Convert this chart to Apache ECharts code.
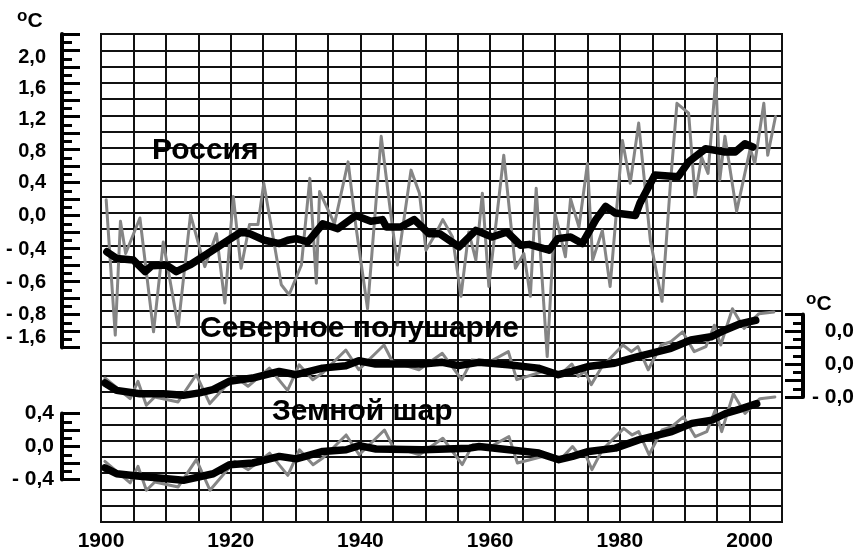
<!DOCTYPE html>
<html>
<head>
<meta charset="utf-8">
<script src="https://cdn.jsdelivr.net/npm/echarts@6/dist/echarts.min.js"></script>
<style>
    html, body { margin: 0; background: #fff; }
    #chart { width: 857px; height: 552px; }
</style>
</head>
<body>
<div id="chart"></div>
<script>
// Russia, annual values (grey) and smoothed (black)
const rusYears = [1900.8, 1902.2, 1903.0, 1903.8, 1906.0, 1908.1, 1909.6, 1911.9, 1913.8, 1916.0, 1917.8, 1919.1, 1920.4, 1921.6, 1922.9, 1924.2, 1925.1, 1927.8, 1929.0, 1930.9, 1932.2, 1933.2, 1933.7, 1936.0, 1938.1, 1939.3, 1941.1, 1943.2, 1944.5, 1945.7, 1947.8, 1949.1, 1950.1, 1951.6, 1952.7, 1954.2, 1955.5, 1956.7, 1957.8, 1958.8, 1959.8, 1962.1, 1963.9, 1965.2, 1966.2, 1967.1, 1968.8, 1970.0, 1971.6, 1972.4, 1973.7, 1975.0, 1975.8, 1977.3, 1978.5, 1980.4, 1981.6, 1982.9, 1984.7, 1986.5, 1987.8, 1988.8, 1990.6, 1991.6, 1992.6, 1993.6, 1994.8, 1995.4, 1996.2, 1998.0, 2000.1, 2000.8, 2002.2, 2002.8, 2004.0];
const rusAnnual = [0.19, -1.45, -0.07, -0.46, -0.03, -1.41, -0.32, -1.35, 0.01, -0.62, -0.22, -1.06, 0.23, -0.64, -0.11, -0.11, 0.39, -0.84, -0.96, -0.6, 0.45, -0.82, 0.29, -0.1, 0.65, -0.13, -1.13, 0.96, 0.13, -0.6, 0.55, 0.27, -0.42, -0.22, -0.05, -0.26, -0.98, -0.2, -0.54, 0.27, -0.86, 0.73, -0.64, -0.46, -0.98, 0.33, -1.71, 0.03, -0.5, 0.2, -0.14, 0.63, -0.54, -0.18, -0.86, 0.91, 0.39, 1.12, -0.3, -1.04, 0.39, 1.36, 1.24, 0.23, 0.71, 0.51, 1.66, 0.43, 0.96, 0.05, 0.81, 0.63, 1.36, 0.73, 1.2];
const rusSmoothYears = [1900.9, 1902.4, 1905.0, 1906.8, 1907.8, 1910.1, 1911.6, 1913.7, 1915.7, 1918.8, 1921.6, 1922.9, 1925.2, 1927.5, 1928.8, 1930.1, 1931.9, 1934.2, 1936.5, 1939.3, 1941.6, 1943.4, 1944.0, 1946.2, 1948.3, 1950.6, 1952.2, 1955.2, 1957.8, 1960.3, 1962.6, 1964.7, 1966.0, 1969.1, 1970.4, 1972.4, 1974.2, 1976.3, 1977.8, 1979.3, 1982.4, 1983.1, 1985.4, 1989.0, 1990.6, 1993.2, 1996.2, 1997.8, 1999.3, 2000.5];
const rusSmooth = [-0.44, -0.52, -0.54, -0.68, -0.61, -0.6, -0.68, -0.6, -0.5, -0.34, -0.2, -0.22, -0.3, -0.34, -0.3, -0.28, -0.32, -0.1, -0.16, 0.0, -0.07, -0.05, -0.14, -0.14, -0.05, -0.22, -0.22, -0.38, -0.18, -0.26, -0.2, -0.36, -0.35, -0.42, -0.28, -0.26, -0.34, -0.05, 0.11, 0.03, 0.0, 0.15, 0.49, 0.47, 0.65, 0.81, 0.77, 0.77, 0.87, 0.83];

// Northern hemisphere
const nhYears = [1900.6, 1904.5, 1905.7, 1907.0, 1908.3, 1911.9, 1914.7, 1916.8, 1920.6, 1922.7, 1926.0, 1928.8, 1930.6, 1932.7, 1934.2, 1937.8, 1939.8, 1943.7, 1945.0, 1949.1, 1952.7, 1955.7, 1957.3, 1960.1, 1962.9, 1964.2, 1969.1, 1970.6, 1972.7, 1973.7, 1974.7, 1975.7, 1977.3, 1980.6, 1981.9, 1982.9, 1984.5, 1986.5, 1988.0, 1989.8, 1991.6, 1993.4, 1994.7, 1995.7, 1997.5, 1999.3, 2001.6, 2003.9];
const nhAnnual = [-0.17, -0.42, -0.21, -0.5, -0.4, -0.46, -0.13, -0.48, -0.15, -0.27, -0.05, -0.32, -0.01, -0.19, -0.11, 0.17, -0.07, 0.23, 0.03, -0.07, 0.13, -0.19, 0.05, 0.03, 0.15, -0.19, -0.07, -0.15, 0.0, -0.15, -0.09, -0.25, -0.04, 0.23, 0.15, 0.21, -0.07, 0.23, 0.27, 0.39, 0.15, 0.21, 0.47, 0.23, 0.67, 0.43, 0.61, 0.63];
const nhSmoothYears = [1900.6, 1902.4, 1906.0, 1909.6, 1912.7, 1915.2, 1917.3, 1919.8, 1923.4, 1927.5, 1930.1, 1932.2, 1934.2, 1937.8, 1939.8, 1942.4, 1945.5, 1949.6, 1952.7, 1955.2, 1958.3, 1962.9, 1967.5, 1970.6, 1972.7, 1975.2, 1979.3, 1982.9, 1988.0, 1991.1, 1994.2, 1996.3, 1998.8, 2001.1];
const nhSmooth = [-0.23, -0.32, -0.36, -0.36, -0.38, -0.35, -0.31, -0.21, -0.17, -0.09, -0.13, -0.09, -0.05, -0.02, 0.04, 0.0, 0.0, 0.0, 0.02, -0.02, 0.02, -0.01, -0.05, -0.13, -0.09, -0.03, 0.01, 0.09, 0.19, 0.29, 0.33, 0.41, 0.49, 0.53];

// Globe
const glYears = [1900.6, 1904.5, 1905.7, 1907.0, 1908.3, 1911.9, 1914.7, 1916.8, 1920.6, 1922.7, 1926.0, 1928.8, 1930.6, 1932.7, 1934.2, 1937.8, 1939.8, 1943.7, 1945.0, 1949.1, 1952.7, 1955.7, 1957.3, 1960.1, 1962.9, 1964.2, 1969.1, 1970.6, 1972.7, 1973.7, 1974.7, 1975.7, 1977.3, 1980.6, 1981.9, 1982.9, 1984.5, 1986.5, 1988.0, 1989.8, 1991.6, 1993.4, 1994.7, 1995.7, 1997.5, 1999.3, 2001.6, 2003.9];
const glAnnual = [-0.18, -0.44, -0.24, -0.53, -0.43, -0.49, -0.16, -0.53, -0.18, -0.28, -0.08, -0.35, -0.04, -0.22, -0.14, 0.14, -0.1, 0.2, 0.0, -0.1, 0.1, -0.22, 0.02, 0.0, 0.12, -0.2, -0.1, -0.18, 0.0, -0.1, -0.1, -0.28, -0.04, 0.22, 0.14, 0.18, -0.1, 0.2, 0.24, 0.36, 0.12, 0.18, 0.44, 0.18, 0.64, 0.4, 0.58, 0.6];
const glSmoothYears = [1900.6, 1902.4, 1906.0, 1912.7, 1917.3, 1919.8, 1923.4, 1927.5, 1930.1, 1934.2, 1937.8, 1939.8, 1942.4, 1949.6, 1956.8, 1958.3, 1962.9, 1967.5, 1970.6, 1972.7, 1975.2, 1979.3, 1982.9, 1988.0, 1991.1, 1994.2, 1996.3, 1998.8, 2001.1];
const glSmooth = [-0.26, -0.33, -0.36, -0.41, -0.33, -0.22, -0.2, -0.12, -0.15, -0.06, -0.04, 0.01, -0.03, -0.04, -0.02, 0.0, -0.04, -0.08, -0.16, -0.12, -0.06, -0.02, 0.08, 0.18, 0.28, 0.32, 0.4, 0.46, 0.52];

// tick labels (the Russia labels sit a little tighter than its ticks)
const rusTickLabels = ['2,0', '1,6', '1,2', '0,8', '0,4', '0,0', '- 0,4', '- 0,6', '- 0,8', '- 1,6'];
const rusLabelValues = [1.92, 1.54, 1.16, 0.78, 0.4, 0.0, -0.41, -0.81, -1.2, -1.48];
const nhTickValues = [0.4, 0.0, -0.4];
const nhTickLabels = ['0,0', '0,0', '- 0,0'];
const glTickValues = [0.4, 0.0, -0.4];
const glTickLabels = ['0,4', '0,0', '- 0,4'];

const zip = (xs, ys) => xs.map((x, i) => [x, ys[i]]);
const pick = (vals, labels) => v => {
    const i = vals.findIndex(t => Math.abs(t - v) < 1e-6);
    return i >= 0 ? labels[i] : '';
};

const FONT = '"Liberation Sans", Arial, sans-serif';
const rowH = 16.5;
const gridLeft = 101, gridRight = 75, gridTop = 34;

function sideAxis(grid, min, max, position, offset, labelOpts) {
    return {
        gridIndex: grid, type: 'value', min: min, max: max, interval: 0.2,
        position: position, offset: offset,
        axisLine: { show: true, lineStyle: { color: '#000', width: 4 } },
        axisTick: { show: true, inside: true, length: 18, lineStyle: { color: '#000', width: 3 } },
        minorTick: { show: true, splitNumber: 2, length: 10, lineStyle: { color: '#000', width: 3 } },
        splitLine: { show: false },
        axisLabel: Object.assign({ color: '#000', fontWeight: 'bold', fontFamily: FONT }, labelOpts)
    };
}

function hiddenX(grid) {
    return { gridIndex: grid, type: 'value', min: 1900, max: 2005, show: false };
}

function lineSeries(grid, data, color, width, z) {
    return {
        type: 'line', xAxisIndex: grid, yAxisIndex: grid, data: data,
        symbol: 'none', clip: false, z: z,
        lineStyle: { color: color, width: width, join: 'round', cap: 'round' }
    };
}

const degStyle = {
    text: '{o|o}{c|C}', fill: '#000',
    rich: {
        o: { fontSize: 17, fontWeight: 'bold', fontFamily: FONT, verticalAlign: 'top', lineHeight: 16 },
        c: { fontSize: 21, fontWeight: 'bold', fontFamily: FONT, verticalAlign: 'bottom', lineHeight: 24 }
    }
};

const chart = echarts.init(document.getElementById('chart'));

chart.setOption({
    animation: false,
    backgroundColor: '#fff',
    grid: [
        { left: gridLeft, right: gridRight, top: gridTop, bottom: 23, show: true, borderColor: '#111', borderWidth: 2 },
        { left: gridLeft, right: gridRight, top: gridTop, height: 19 * rowH },
        { left: gridLeft, right: gridRight, top: gridTop + 17 * rowH, height: 5 * rowH },
        { left: gridLeft, right: gridRight, top: gridTop + 23 * rowH, height: 4 * rowH }
    ],
    xAxis: [
        {
            gridIndex: 0, type: 'value', min: 1900, max: 2005, interval: 5,
            axisLine: { show: true, lineStyle: { color: '#111', width: 2 } },
            axisTick: { show: false },
            splitLine: { show: true, lineStyle: { color: '#111', width: 2 } },
            axisLabel: {
                color: '#000', fontSize: 21, fontWeight: 'bold', fontFamily: FONT, margin: 9,
                formatter: v => (v % 20 === 0 ? String(v) : '')
            }
        },
        hiddenX(1), hiddenX(2), hiddenX(3)
    ],
    yAxis: [
        {
            gridIndex: 0, type: 'value', min: 0, max: 30, interval: 1,
            axisLine: { show: false }, axisTick: { show: false }, axisLabel: { show: false },
            splitLine: { show: true, lineStyle: { color: '#111', width: 2 } }
        },
        sideAxis(1, -1.6, 2.2, 'left', 39, {
            fontSize: 20, margin: 16, customValues: rusLabelValues,
            formatter: pick(rusLabelValues, rusTickLabels)
        }),
        sideAxis(2, -0.4, 0.6, 'right', 22, {
            fontSize: 21, margin: 51, align: 'right', formatter: pick(nhTickValues, nhTickLabels)
        }),
        sideAxis(3, -0.4, 0.4, 'left', 39, {
            fontSize: 21, margin: 8, formatter: pick(glTickValues, glTickLabels)
        })
    ],
    graphic: [
        { type: 'text', x: 17, y: 8, z: 10, style: degStyle },
        { type: 'text', x: 806, y: 291, z: 10, style: degStyle },
        { type: 'text', x: 152, y: 151, z: 10, style: { text: 'Россия', fill: '#000', font: 'bold 30px ' + FONT, verticalAlign: 'middle' } },
        { type: 'text', x: 200, y: 329, z: 10, style: { text: 'Северное полушарие', fill: '#000', font: 'bold 30px ' + FONT, verticalAlign: 'middle' } },
        { type: 'text', x: 272, y: 412, z: 10, style: { text: 'Земной шар', fill: '#000', font: 'bold 30px ' + FONT, verticalAlign: 'middle' } }
    ],
    series: [
        lineSeries(1, zip(rusYears, rusAnnual), '#858585', 3, 3),
        lineSeries(1, zip(rusSmoothYears, rusSmooth), '#000', 7.5, 4),
        lineSeries(2, zip(nhYears, nhAnnual), '#858585', 3, 3),
        lineSeries(2, zip(nhSmoothYears, nhSmooth), '#000', 7.5, 4),
        lineSeries(3, zip(glYears, glAnnual), '#858585', 3, 3),
        lineSeries(3, zip(glSmoothYears, glSmooth), '#000', 7.5, 4)
    ]
});

window.addEventListener('resize', () => chart.resize());
</script>
</body>
</html>
